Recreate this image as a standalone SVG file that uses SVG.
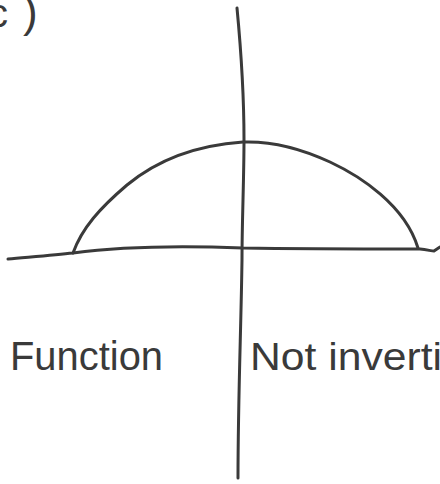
<svg xmlns="http://www.w3.org/2000/svg" width="440" height="484" viewBox="0 0 440 484">
<style>
.ink{fill:none;stroke:#3a3a3a;stroke-width:3;stroke-linecap:round;stroke-linejoin:round}
.hand{font-family:"Liberation Sans",Arial,sans-serif;fill:#3a3a3a;font-weight:normal}
</style>
<rect width="440" height="484" fill="#ffffff"/>
<g id="label-c">
<text class="hand" x="-12" y="27" font-size="40">c<tspan dx="15" font-size="44">)</tspan></text>
</g>
<g id="axes">
<path class="ink" d="M237,8 C241,50 244,100 244,140 C244,180 242,220 242,260 C241,330 238,400 238,478"/>
<path class="ink" d="M8,259 C30,257 55,255 73,253 C110,248 170,245 243,248 C300,249 380,249 420,249 C428,250 432,251 434,251 L440,247"/>
</g>
<g id="curve">
<path class="ink" d="M73,253 C82,228 100,208 127,185 C150,166 185,146 243,142 C270,141 300,148 330,162 C360,176 405,205 418,248"/>
</g>
<g id="texts">
<text class="hand" x="10" y="370" font-size="40" textLength="153" lengthAdjust="spacingAndGlyphs">Function</text>
<text class="hand" x="250" y="370" font-size="38" textLength="192" lengthAdjust="spacingAndGlyphs">Not inverti</text>
</g>
</svg>
